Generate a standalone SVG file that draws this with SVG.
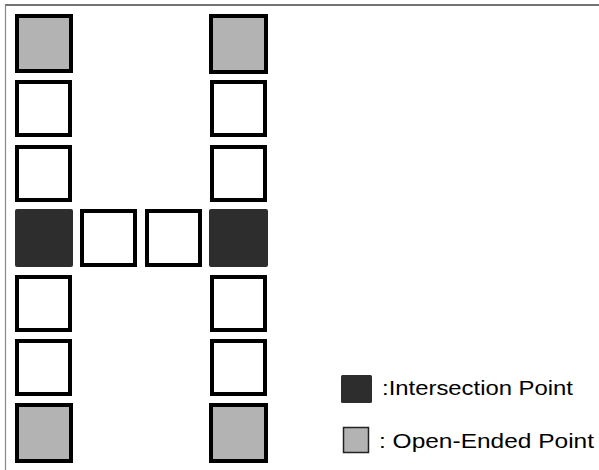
<svg xmlns="http://www.w3.org/2000/svg" width="599" height="470" viewBox="0 0 599 470">
<style>
.w{fill:#fff;stroke:#000;stroke-width:4}
.g{fill:#b3b3b3;stroke:#000;stroke-width:4}
.d{fill:#2d2d2d;stroke:none}
.t{font-family:"Liberation Sans",Arial,sans-serif;font-size:21px;fill:#000}
</style>
<rect width="599" height="470" fill="#fff"/>
<g id="frame">
<line x1="5" y1="5" x2="599" y2="5" stroke="#444" stroke-width="1.6"/>
<line x1="5.5" y1="5" x2="5.5" y2="470" stroke="#888" stroke-width="1.2"/>
</g>
<g id="left-col">
<g id="L1"><rect class="g" x="17" y="16" width="54" height="55"/></g>
<g id="L2"><rect class="w" x="17" y="82" width="53" height="53"/></g>
<g id="L3"><rect class="w" x="17" y="147" width="53" height="53"/></g>
<g id="L4"><rect class="d" x="15" y="209" width="58" height="58" rx="2"/></g>
<g id="L5"><rect class="w" x="17" y="277" width="53" height="53"/></g>
<g id="L6"><rect class="w" x="17" y="341" width="53" height="53"/></g>
<g id="L7"><rect class="g" x="17" y="405" width="54" height="56"/></g>
</g>
<g id="middle">
<g id="M1"><rect class="w" x="82" y="211" width="53" height="54"/></g>
<g id="M2"><rect class="w" x="147" y="211" width="53" height="54"/></g>
</g>
<g id="right-col">
<g id="R1"><rect class="g" x="211" y="16" width="55" height="56"/></g>
<g id="R2"><rect class="w" x="212" y="82" width="53" height="53"/></g>
<g id="R3"><rect class="w" x="212" y="147" width="53" height="53"/></g>
<g id="R4"><rect class="d" x="209" y="209" width="59" height="58" rx="2"/></g>
<g id="R5"><rect class="w" x="212" y="277" width="53" height="53"/></g>
<g id="R6"><rect class="w" x="212" y="341" width="53" height="53"/></g>
<g id="R7"><rect class="g" x="211" y="405" width="55" height="56"/></g>
</g>
<g id="legend">
<rect class="d" x="341" y="375" width="31" height="28" rx="1.5"/>
<text class="t" x="382" y="395" textLength="191" lengthAdjust="spacingAndGlyphs">:Intersection Point</text>
<rect x="343.5" y="427.5" width="25" height="25" fill="#b3b3b3" stroke="#222" stroke-width="1.5"/>
<text class="t" x="379" y="448" textLength="215" lengthAdjust="spacingAndGlyphs">: Open-Ended Point</text>
</g>
<g id="connectors"></g>
</svg>
